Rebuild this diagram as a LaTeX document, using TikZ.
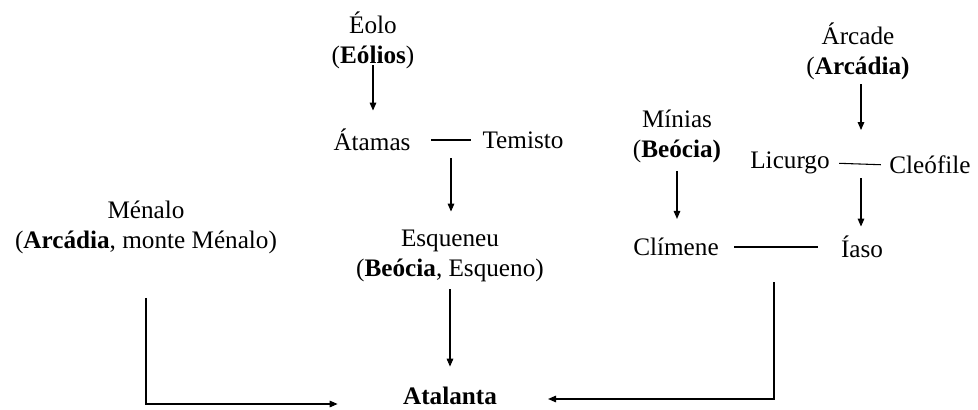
\documentclass[tikz,border=0pt]{standalone}
\usepackage{fontspec}
\setmainfont{Liberation Serif}
\usetikzlibrary{arrows.meta}

\begin{document}
\begin{tikzpicture}[x=0.75pt,y=-0.75pt,line width=0.8pt,
  every node/.style={inner sep=0pt,align=center,font=\fontsize{18.9}{22.5}\selectfont},
  arr/.style={-{Triangle[length=6pt,width=5pt]}}]
\useasboundingbox (0,0) rectangle (978,410);
% Eolo
\node (eolo) at (373,40) {Éolo\\(\textbf{Eólios})};
\node (atamas) at (372,140) {Átamas};
\node (temisto) at (523,140) {Temisto};
\node (esqueneu) at (450,256) {Esqueneu\\(\textbf{Beócia}, Esqueno)};
% Arcade
\node (arcade) at (858,51) {Árcade\\(\textbf{Arcádia)}};
\node (licurgo) at (790,163) {Licurgo};
\node (cleofile) at (930,165) {Cleófile};
\node (minias) at (677,136) {Mínias\\(\textbf{Beócia)}};
\node (climene) at (676,247) {Clímene};
\node (iaso) at (862,247) {Íaso};
% Menalo
\node (menalo) at (146,227) {Ménalo\\(\textbf{Arcádia}, monte Ménalo)};
\node[font=\fontsize{18.9}{22.5}\selectfont\bfseries] (atalanta) at (450,396) {Atalanta};
\coordinate (u1) at (451,140);
\coordinate (u2) at (861,164);
\coordinate (u3) at (774,248);
\draw[shorten <=15pt,shorten >=8.25pt] (atamas.east) -- (temisto.west);
\draw[shorten <=6.75pt,shorten >=6pt] (licurgo.east) -- (cleofile.west);
\draw[shorten <=11.25pt,shorten >=16.5pt] (climene.east) -- (iaso.west);
\draw[arr,shorten >=13.5pt] ([yshift=3pt]eolo.south) -- (eolo.south |- atamas.north);
\draw[arr,shorten <=13.5pt,shorten >=13.5pt] (u1) -- (u1 |- esqueneu.north);
\draw[arr,shorten <=5pt,shorten >=15pt] (esqueneu.south) -- (esqueneu.south |- atalanta.north);
\draw[arr,shorten <=3pt,shorten >=25.5pt] (arcade.south -| u2) -- (u2);
\draw[arr,shorten <=10.5pt,shorten >=6.75pt] (u2) -- (u2 |- iaso.north);
\draw[arr,shorten <=6pt,shorten >=14pt] (minias.south) -- (minias.south |- climene.north);
\draw[arr,shorten <=33pt,shorten >=48.75pt] (menalo.south) |- ([yshift=-6pt]atalanta.west);
\draw[arr,shorten <=25.5pt,shorten >=38pt] (u3) |- ([yshift=-2.25pt]atalanta.east);
\end{tikzpicture}
\end{document}
